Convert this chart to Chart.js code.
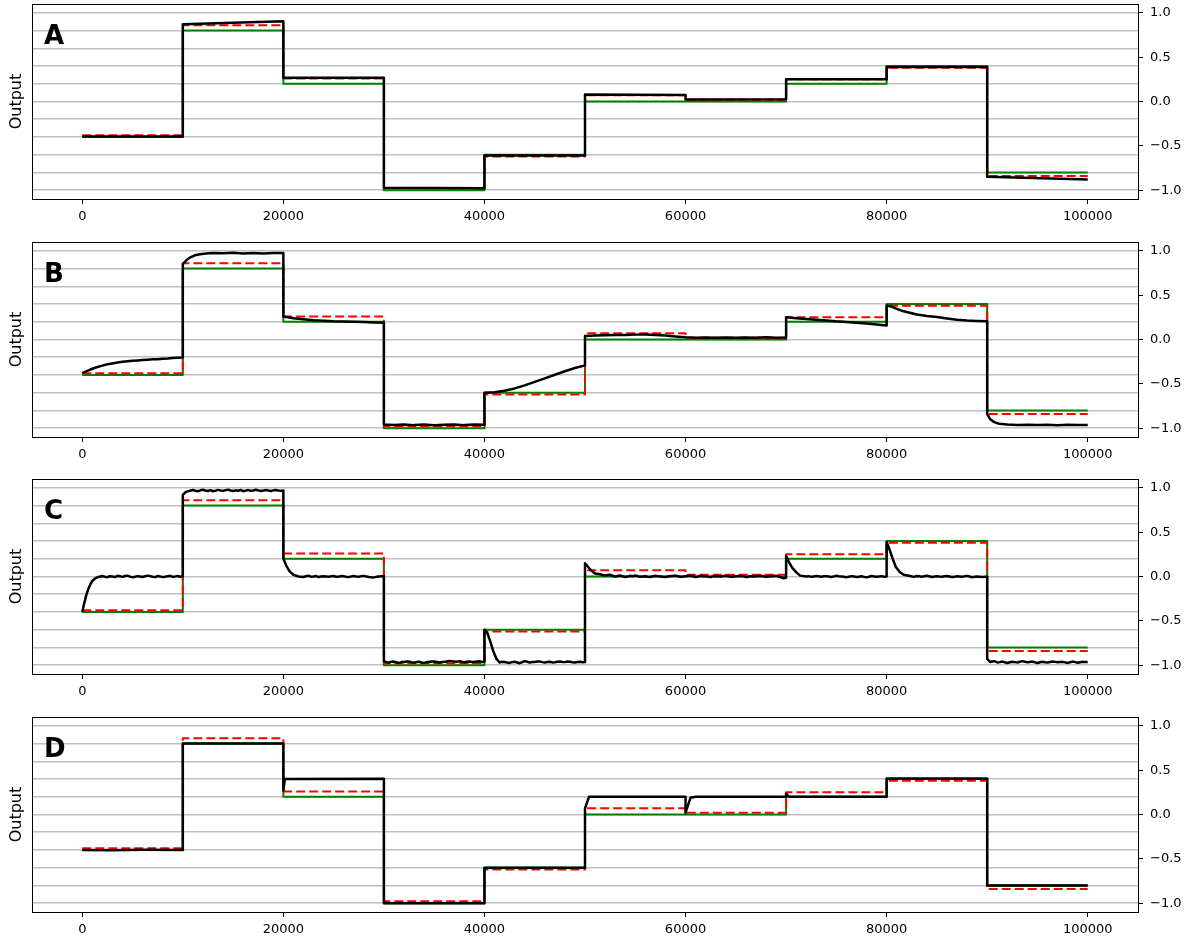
<!DOCTYPE html>
<html>
<head>
<meta charset="utf-8">
<script src="https://cdn.jsdelivr.net/npm/chart.js@4.4.1/dist/chart.umd.min.js"></script>
<style>
  html, body { margin: 0; padding: 0; background: #fff; overflow: hidden; }
  .panel { position: absolute; left: 0; width: 1193px; height: 235px; }
</style>
</head>
<body>
<div class="panel" style="top:0px"><canvas id="chartA" width="1193" height="235"></canvas></div>
<div class="panel" style="top:238px"><canvas id="chartB" width="1193" height="235"></canvas></div>
<div class="panel" style="top:475px"><canvas id="chartC" width="1193" height="235"></canvas></div>
<div class="panel" style="top:713px"><canvas id="chartD" width="1193" height="235"></canvas></div>

<script>
// step boundaries (setpoint changes every 10000 steps)
const stepX = [0, 10000, 20000, 30000, 40000, 50000, 60000, 70000, 80000, 90000, 100000];
// green: target
const target = [-0.4, 0.8, 0.2, -1.0, -0.6, 0.0, 0.0, 0.2, 0.4, -0.8, -0.8];
// red dashed: reference
const reference = [-0.38, 0.86, 0.26, -0.98, -0.62, 0.07, 0.02, 0.25, 0.38, -0.84, -0.84];

// axis ticks
const xTicks = [0, 20000, 40000, 60000, 80000, 100000];
const yTicks = [-1.0, -0.5, 0.0, 0.5, 1.0];
const yGridLines = [-1.0, -0.8, -0.6, -0.4, -0.2, 0.0, 0.2, 0.4, 0.6, 0.8, 1.0];

// black: output of each model, [step, value]
const outputA = [
  [0, -0.395], [10000, -0.395], [10000, 0.872], [20000, 0.906], [20000, 0.268], [30000, 0.268],
  [30000, -0.972], [40000, -0.978], [40000, -0.608], [50000, -0.608], [50000, 0.078], [60000, 0.072],
  [60000, 0.022], [70000, 0.025], [70000, 0.25], [80000, 0.25], [80000, 0.39], [90000, 0.39],
  [90000, -0.85], [100000, -0.88]
];

const outputB = [
  [0, -0.38], [500, -0.355], [1000, -0.33], [1500, -0.31], [2000, -0.295], [2500, -0.28], [3000, -0.27],
  [3500, -0.26], [4000, -0.252], [4500, -0.246], [5000, -0.24], [5500, -0.236], [6000, -0.232],
  [6500, -0.228], [7000, -0.224], [7500, -0.222], [8000, -0.216], [8500, -0.214], [9000, -0.21],
  [9500, -0.206], [10000, -0.204],
  [10000, 0.85], [10400, 0.9], [10800, 0.93], [11200, 0.95], [11700, 0.962], [12300, 0.97], [13000, 0.975],
  [14000, 0.972], [15000, 0.978], [16000, 0.97], [17000, 0.976], [18000, 0.971], [19000, 0.977], [20000, 0.975],
  [20000, 0.26], [21000, 0.24], [22000, 0.228], [23000, 0.218], [24000, 0.212], [25000, 0.206],
  [26000, 0.203], [27000, 0.2], [28000, 0.197], [29000, 0.193], [30000, 0.19],
  [30000, -0.96], [31000, -0.965], [32000, -0.958], [33000, -0.966], [34000, -0.96], [35000, -0.968],
  [36000, -0.962], [37000, -0.958], [38000, -0.966], [39000, -0.96], [40000, -0.963],
  [40000, -0.6], [41000, -0.595], [42000, -0.578], [43000, -0.552], [44000, -0.518], [45000, -0.478],
  [46000, -0.438], [47000, -0.398], [48000, -0.358], [49000, -0.322], [50000, -0.292],
  [50000, 0.04], [51000, 0.045], [52000, 0.048], [53000, 0.05], [54000, 0.052], [55000, 0.055],
  [56000, 0.056], [57000, 0.052], [58000, 0.045], [59000, 0.035], [60000, 0.025],
  [61000, 0.02], [62000, 0.022], [63000, 0.02], [64000, 0.023], [65000, 0.02], [66000, 0.022],
  [67000, 0.02], [68000, 0.024], [69000, 0.021], [70000, 0.022],
  [70000, 0.25], [71000, 0.24], [72000, 0.23], [73000, 0.222], [74000, 0.215], [75000, 0.205],
  [76000, 0.198], [77000, 0.19], [78000, 0.18], [79000, 0.17], [80000, 0.158],
  [80000, 0.385], [80500, 0.37], [81000, 0.345], [81500, 0.325], [82000, 0.31], [83000, 0.282],
  [84000, 0.266], [85000, 0.254], [86000, 0.238], [87000, 0.224], [88000, 0.214], [89000, 0.209], [90000, 0.205],
  [90000, -0.84], [90300, -0.9], [90700, -0.932], [91200, -0.95], [92000, -0.96], [93000, -0.965],
  [94000, -0.962], [95000, -0.966], [96000, -0.963], [97000, -0.967], [98000, -0.963], [99000, -0.966], [100000, -0.964]
];

const outputC = [
  [0, -0.4], [200, -0.3], [400, -0.21], [600, -0.14], [800, -0.09], [1000, -0.05], [1300, -0.02], [1600, -0.005],
  [2000, 0.005], [2250, -0.004], [2500, -0.008], [2750, 0.003], [3000, 0.0], [3250, -0.006], [3500, 0.008],
  [3750, 0.002], [4000, -0.004], [4250, 0.005], [4500, 0.009], [4750, -0.002], [5000, -0.008], [5250, -0.003],
  [5500, 0.004], [5750, 0.0], [6000, -0.006], [6250, 0.003], [6500, 0.01], [6750, 0.004], [7000, -0.002],
  [7250, -0.007], [7500, 0.006], [7750, 0.001], [8000, -0.007], [8250, -0.002], [8500, 0.003], [8750, 0.008],
  [9000, -0.004], [9250, 0.0], [9500, 0.005], [9750, -0.003], [10000, 0.002],
  [10000, 0.92], [10300, 0.955], [10700, 0.968], [11000, 0.975], [11250, 0.968], [11500, 0.962], [11750, 0.972],
  [12000, 0.978], [12250, 0.971], [12500, 0.965], [12750, 0.974], [13000, 0.962], [13250, 0.969], [13500, 0.977],
  [13750, 0.97], [14000, 0.966], [14250, 0.974], [14500, 0.98], [14750, 0.97], [15000, 0.964], [15250, 0.972],
  [15500, 0.968], [15750, 0.976], [16000, 0.962], [16250, 0.969], [16500, 0.975], [16750, 0.967], [17000, 0.97],
  [17250, 0.978], [17500, 0.972], [17750, 0.965], [18000, 0.969], [18250, 0.976], [18500, 0.97], [18750, 0.964],
  [19000, 0.972], [19250, 0.977], [19500, 0.971], [19750, 0.966], [20000, 0.97],
  [20000, 0.2], [20300, 0.12], [20600, 0.06], [21000, 0.02], [21500, 0.0],
  [22000, -0.005], [22250, 0.004], [22500, 0.008], [22750, -0.002], [23000, 0.0], [23250, 0.006], [23500, -0.006],
  [23750, -0.001], [24000, 0.004], [24250, 0.0], [24500, -0.004], [24750, 0.003], [25000, 0.006], [25250, -0.003],
  [25500, -0.002], [25750, 0.005], [26000, 0.003], [26250, -0.004], [26500, -0.007], [26750, 0.001], [27000, 0.005],
  [27250, 0.0], [27500, -0.003], [27750, 0.004], [28000, 0.007], [28250, 0.001], [28500, -0.005], [28750, -0.008],
  [29000, -0.01], [29250, -0.004], [29500, 0.0], [29750, 0.003], [30000, 0.005],
  [30000, -0.955], [30250, -0.966], [30500, -0.97], [30750, -0.962], [31000, -0.96], [31250, -0.968], [31500, -0.975],
  [31750, -0.966], [32000, -0.965], [32250, -0.958], [32500, -0.96], [32750, -0.968], [33000, -0.972], [33250, -0.964],
  [33500, -0.962], [33750, -0.97], [34000, -0.975], [34250, -0.966], [34500, -0.965], [34750, -0.96], [35000, -0.958],
  [35250, -0.964], [35500, -0.97], [35750, -0.965], [36000, -0.962], [36250, -0.958], [36500, -0.952], [36750, -0.957],
  [37000, -0.96], [37250, -0.963], [37500, -0.955], [37750, -0.962], [38000, -0.968], [38250, -0.962], [38500, -0.958],
  [38750, -0.965], [39000, -0.963], [39250, -0.958], [39500, -0.957], [39750, -0.964], [40000, -0.96],
  [40000, -0.6], [40300, -0.64], [40600, -0.74], [40900, -0.85], [41200, -0.93],
  [41500, -0.97], [41750, -0.962], [42000, -0.965], [42250, -0.971], [42500, -0.975], [42750, -0.966], [43000, -0.962],
  [43250, -0.97], [43500, -0.978], [43750, -0.967], [44000, -0.955], [44250, -0.962], [44500, -0.97], [44750, -0.966],
  [45000, -0.965], [45250, -0.96], [45500, -0.958], [45750, -0.966], [46000, -0.97], [46250, -0.965], [46500, -0.962],
  [46750, -0.969], [47000, -0.968], [47250, -0.962], [47500, -0.958], [47750, -0.964], [48000, -0.966], [48250, -0.96],
  [48500, -0.961], [48750, -0.967], [49000, -0.97], [49250, -0.965], [49500, -0.962], [49750, -0.967], [50000, -0.965],
  [50000, 0.15], [50300, 0.11], [50600, 0.07], [51000, 0.035], [51500, 0.025],
  [52000, 0.01], [52250, 0.016], [52500, 0.02], [52750, 0.008], [53000, 0.0], [53250, 0.006], [53500, 0.012],
  [53750, 0.002], [54000, -0.005], [54250, 0.001], [54500, 0.008], [54750, 0.004], [55000, 0.012], [55250, 0.004],
  [55500, -0.004], [55750, -0.001], [56000, 0.002], [56250, -0.003], [56500, -0.006], [56750, 0.002], [57000, 0.008],
  [57250, 0.004], [57500, 0.0], [57750, -0.004], [58000, -0.006], [58250, 0.0], [58500, 0.005], [58750, 0.007],
  [59000, 0.01], [59250, 0.003], [59500, -0.003], [59750, 0.0], [60000, 0.004], [60250, 0.007], [60500, 0.01],
  [60750, 0.002], [61000, -0.005], [61250, 0.0], [61500, 0.008], [61750, 0.004], [62000, 0.002], [62250, -0.003],
  [62500, -0.006], [62750, 0.001], [63000, 0.006], [63250, 0.003], [63500, 0.0], [63750, 0.005], [64000, 0.01],
  [64250, 0.003], [64500, -0.004], [64750, -0.001], [65000, 0.003], [65250, 0.006], [65500, 0.008], [65750, 0.001],
  [66000, -0.006], [66250, -0.002], [66500, 0.004], [66750, 0.0], [67000, 0.002], [67250, 0.006], [67500, 0.009],
  [67750, 0.003], [68000, -0.003], [68250, 0.001], [68500, 0.006], [68750, 0.004], [69000, 0.01], [69250, 0.0],
  [69500, -0.01], [69750, -0.02], [70000, -0.015],
  [70000, 0.23], [70300, 0.16], [70600, 0.1], [71000, 0.05], [71400, 0.01],
  [72000, 0.0], [72250, 0.004], [72500, -0.004], [72750, 0.001], [73000, 0.006], [73250, 0.002], [73500, -0.002],
  [73750, 0.002], [74000, 0.004], [74250, -0.001], [74500, -0.006], [74750, 0.001], [75000, 0.008], [75250, 0.003],
  [75500, 0.0], [75750, -0.004], [76000, -0.008], [76250, -0.002], [76500, 0.004], [76750, 0.0], [77000, -0.006],
  [77250, -0.002], [77500, 0.002], [77750, -0.004], [78000, -0.01], [78250, -0.002], [78500, 0.006], [78750, 0.001],
  [79000, -0.004], [79250, 0.0], [79500, 0.004], [79750, -0.002], [80000, 0.0],
  [80000, 0.39], [80300, 0.3], [80600, 0.2], [80900, 0.11], [81300, 0.05], [81700, 0.02],
  [82200, 0.008], [82450, 0.002], [82700, -0.004], [83000, 0.006], [83250, 0.002], [83500, -0.002], [83750, 0.003],
  [84000, 0.008], [84250, 0.002], [84500, -0.005], [84750, -0.001], [85000, 0.004], [85250, 0.0], [85500, -0.003],
  [85750, 0.002], [86000, 0.006], [86250, 0.0], [86500, -0.006], [86750, -0.002], [87000, 0.002], [87250, -0.001],
  [87500, -0.004], [87750, 0.002], [88000, 0.007], [88250, 0.0], [88500, -0.008], [88750, -0.003], [89000, 0.0],
  [89250, -0.003], [89500, -0.006], [89750, -0.004], [90000, -0.003],
  [90000, -0.93], [90300, -0.965], [90500, -0.96], [90700, -0.955], [91000, -0.97], [91250, -0.966], [91500, -0.96],
  [91750, -0.968], [92000, -0.975], [92250, -0.968], [92500, -0.962], [92750, -0.966], [93000, -0.97], [93250, -0.962],
  [93500, -0.955], [93750, -0.962], [94000, -0.968], [94250, -0.964], [94500, -0.96], [94750, -0.968], [95000, -0.975],
  [95250, -0.968], [95500, -0.962], [95750, -0.967], [96000, -0.97], [96250, -0.964], [96500, -0.958], [96750, -0.963],
  [97000, -0.968], [97250, -0.965], [97500, -0.963], [97750, -0.969], [98000, -0.975], [98250, -0.967], [98500, -0.96],
  [98750, -0.966], [99000, -0.972], [99250, -0.967], [99500, -0.962], [99750, -0.966], [100000, -0.965]
];

const outputD = [
  [0, -0.4], [3000, -0.402], [6000, -0.398], [10000, -0.4], [10000, 0.8], [20000, 0.8], [20000, 0.27],
  [20150, 0.4], [30000, 0.402], [30000, -1.0], [40000, -1.0], [40000, -0.6], [50000, -0.6], [50000, 0.07],
  [50400, 0.2], [60000, 0.2], [60000, 0.02], [60500, 0.19], [61000, 0.2], [70000, 0.2], [70000, 0.235],
  [70300, 0.2], [80000, 0.2], [80000, 0.405], [90000, 0.405], [90000, -0.8], [100000, -0.8]
];

const fontFamily = '"DejaVu Sans", sans-serif';

const toXY = pairs => pairs.map(([x, y]) => ({ x, y }));
const stepPoints = values => stepX.map((x, i) => ({ x, y: values[i] }));
const asTicks = values => values.map(v => ({ value: v }));

// fixed axis size, no extra label padding around the plot area
const fixSize = (w, h) => s => {
    if (w !== null) s.width = w;
    if (h !== null) s.height = h;
    s.paddingTop = 0;
    s.paddingBottom = 0;
    s.paddingLeft = 0;
    s.paddingRight = 0;
};

// frame + panel letter
const framePlugin = {
    id: 'frame',
    afterDraw(chart, args, opts) {
        const { ctx, chartArea } = chart;
        ctx.save();
        ctx.strokeStyle = '#000';
        ctx.lineWidth = 1;
        const l = Math.round(chartArea.left) + 0.5;
        const t = Math.round(chartArea.top) + 0.5;
        const r = Math.round(chartArea.right) + 0.5;
        const b = Math.round(chartArea.bottom) + 0.5;
        ctx.strokeRect(l, t, r - l, b - t);
        ctx.fillStyle = '#000';
        ctx.font = 'bold 26px ' + fontFamily;
        ctx.textBaseline = 'alphabetic';
        ctx.fillText(opts.letter, chartArea.left + 12, chartArea.top + 40);
        ctx.restore();
    }
};

function makePanel(id, letter, output) {
    new Chart(document.getElementById(id), {
        type: 'line',
        data: {
            datasets: [
                {
                    label: 'Output',
                    data: toXY(output),
                    borderColor: '#000000',
                    borderWidth: 2.5,
                    order: 0
                },
                {
                    label: 'Reference',
                    data: stepPoints(reference),
                    stepped: true,
                    borderColor: '#ff0000',
                    borderWidth: 2,
                    borderDash: [9, 4],
                    order: 1
                },
                {
                    label: 'Target',
                    data: stepPoints(target),
                    stepped: true,
                    borderColor: '#008000',
                    borderWidth: 2,
                    order: 2
                }
            ]
        },
        options: {
            responsive: false,
            animation: false,
            events: [],
            layout: { padding: { top: 4, left: 0, right: 0, bottom: 0 } },
            elements: {
                point: { radius: 0 },
                line: { tension: 0, borderJoinStyle: 'round', fill: false }
            },
            plugins: {
                legend: { display: false },
                tooltip: { enabled: false },
                frame: { letter: letter }
            },
            scales: {
                x: {
                    type: 'linear',
                    position: 'bottom',
                    min: -5000,
                    max: 105000,
                    afterBuildTicks: s => { s.ticks = asTicks(xTicks); },
                    afterFit: fixSize(null, 36),
                    ticks: {
                        autoSkip: false,
                        maxRotation: 0,
                        padding: 5,
                        color: '#000',
                        font: { family: fontFamily, size: 13 },
                        callback: v => String(v)
                    },
                    grid: { drawOnChartArea: false, tickLength: 5, tickColor: '#000', tickWidth: 1 },
                    border: { color: '#000', width: 1 }
                },
                yGrid: {
                    type: 'linear',
                    position: 'left',
                    min: -1.1,
                    max: 1.1,
                    afterBuildTicks: s => { s.ticks = asTicks(yGridLines); },
                    afterFit: fixSize(32, null),
                    ticks: { display: false },
                    grid: { drawTicks: false, lineWidth: 1.5, color: '#c0c0c0' },
                    border: { color: '#000', width: 1 },
                    title: {
                        display: true,
                        text: 'Output',
                        color: '#000',
                        font: { family: fontFamily, size: 16 },
                        padding: { top: 7, bottom: 0 }
                    }
                },
                y: {
                    type: 'linear',
                    position: 'right',
                    min: -1.1,
                    max: 1.1,
                    afterBuildTicks: s => { s.ticks = asTicks(yTicks); },
                    afterFit: fixSize(55, null),
                    ticks: {
                        autoSkip: false,
                        padding: 7,
                        color: '#000',
                        font: { family: fontFamily, size: 13 },
                        callback: v => v.toFixed(1).replace('-', '\u2212')
                    },
                    grid: { drawOnChartArea: false, tickLength: 5, tickWidth: 1, tickColor: '#000' },
                    border: { color: '#000', width: 1 }
                }
            }
        },
        plugins: [framePlugin]
    });
}

makePanel('chartA', 'A', outputA);
makePanel('chartB', 'B', outputB);
makePanel('chartC', 'C', outputC);
makePanel('chartD', 'D', outputD);
</script>
</body>
</html>
